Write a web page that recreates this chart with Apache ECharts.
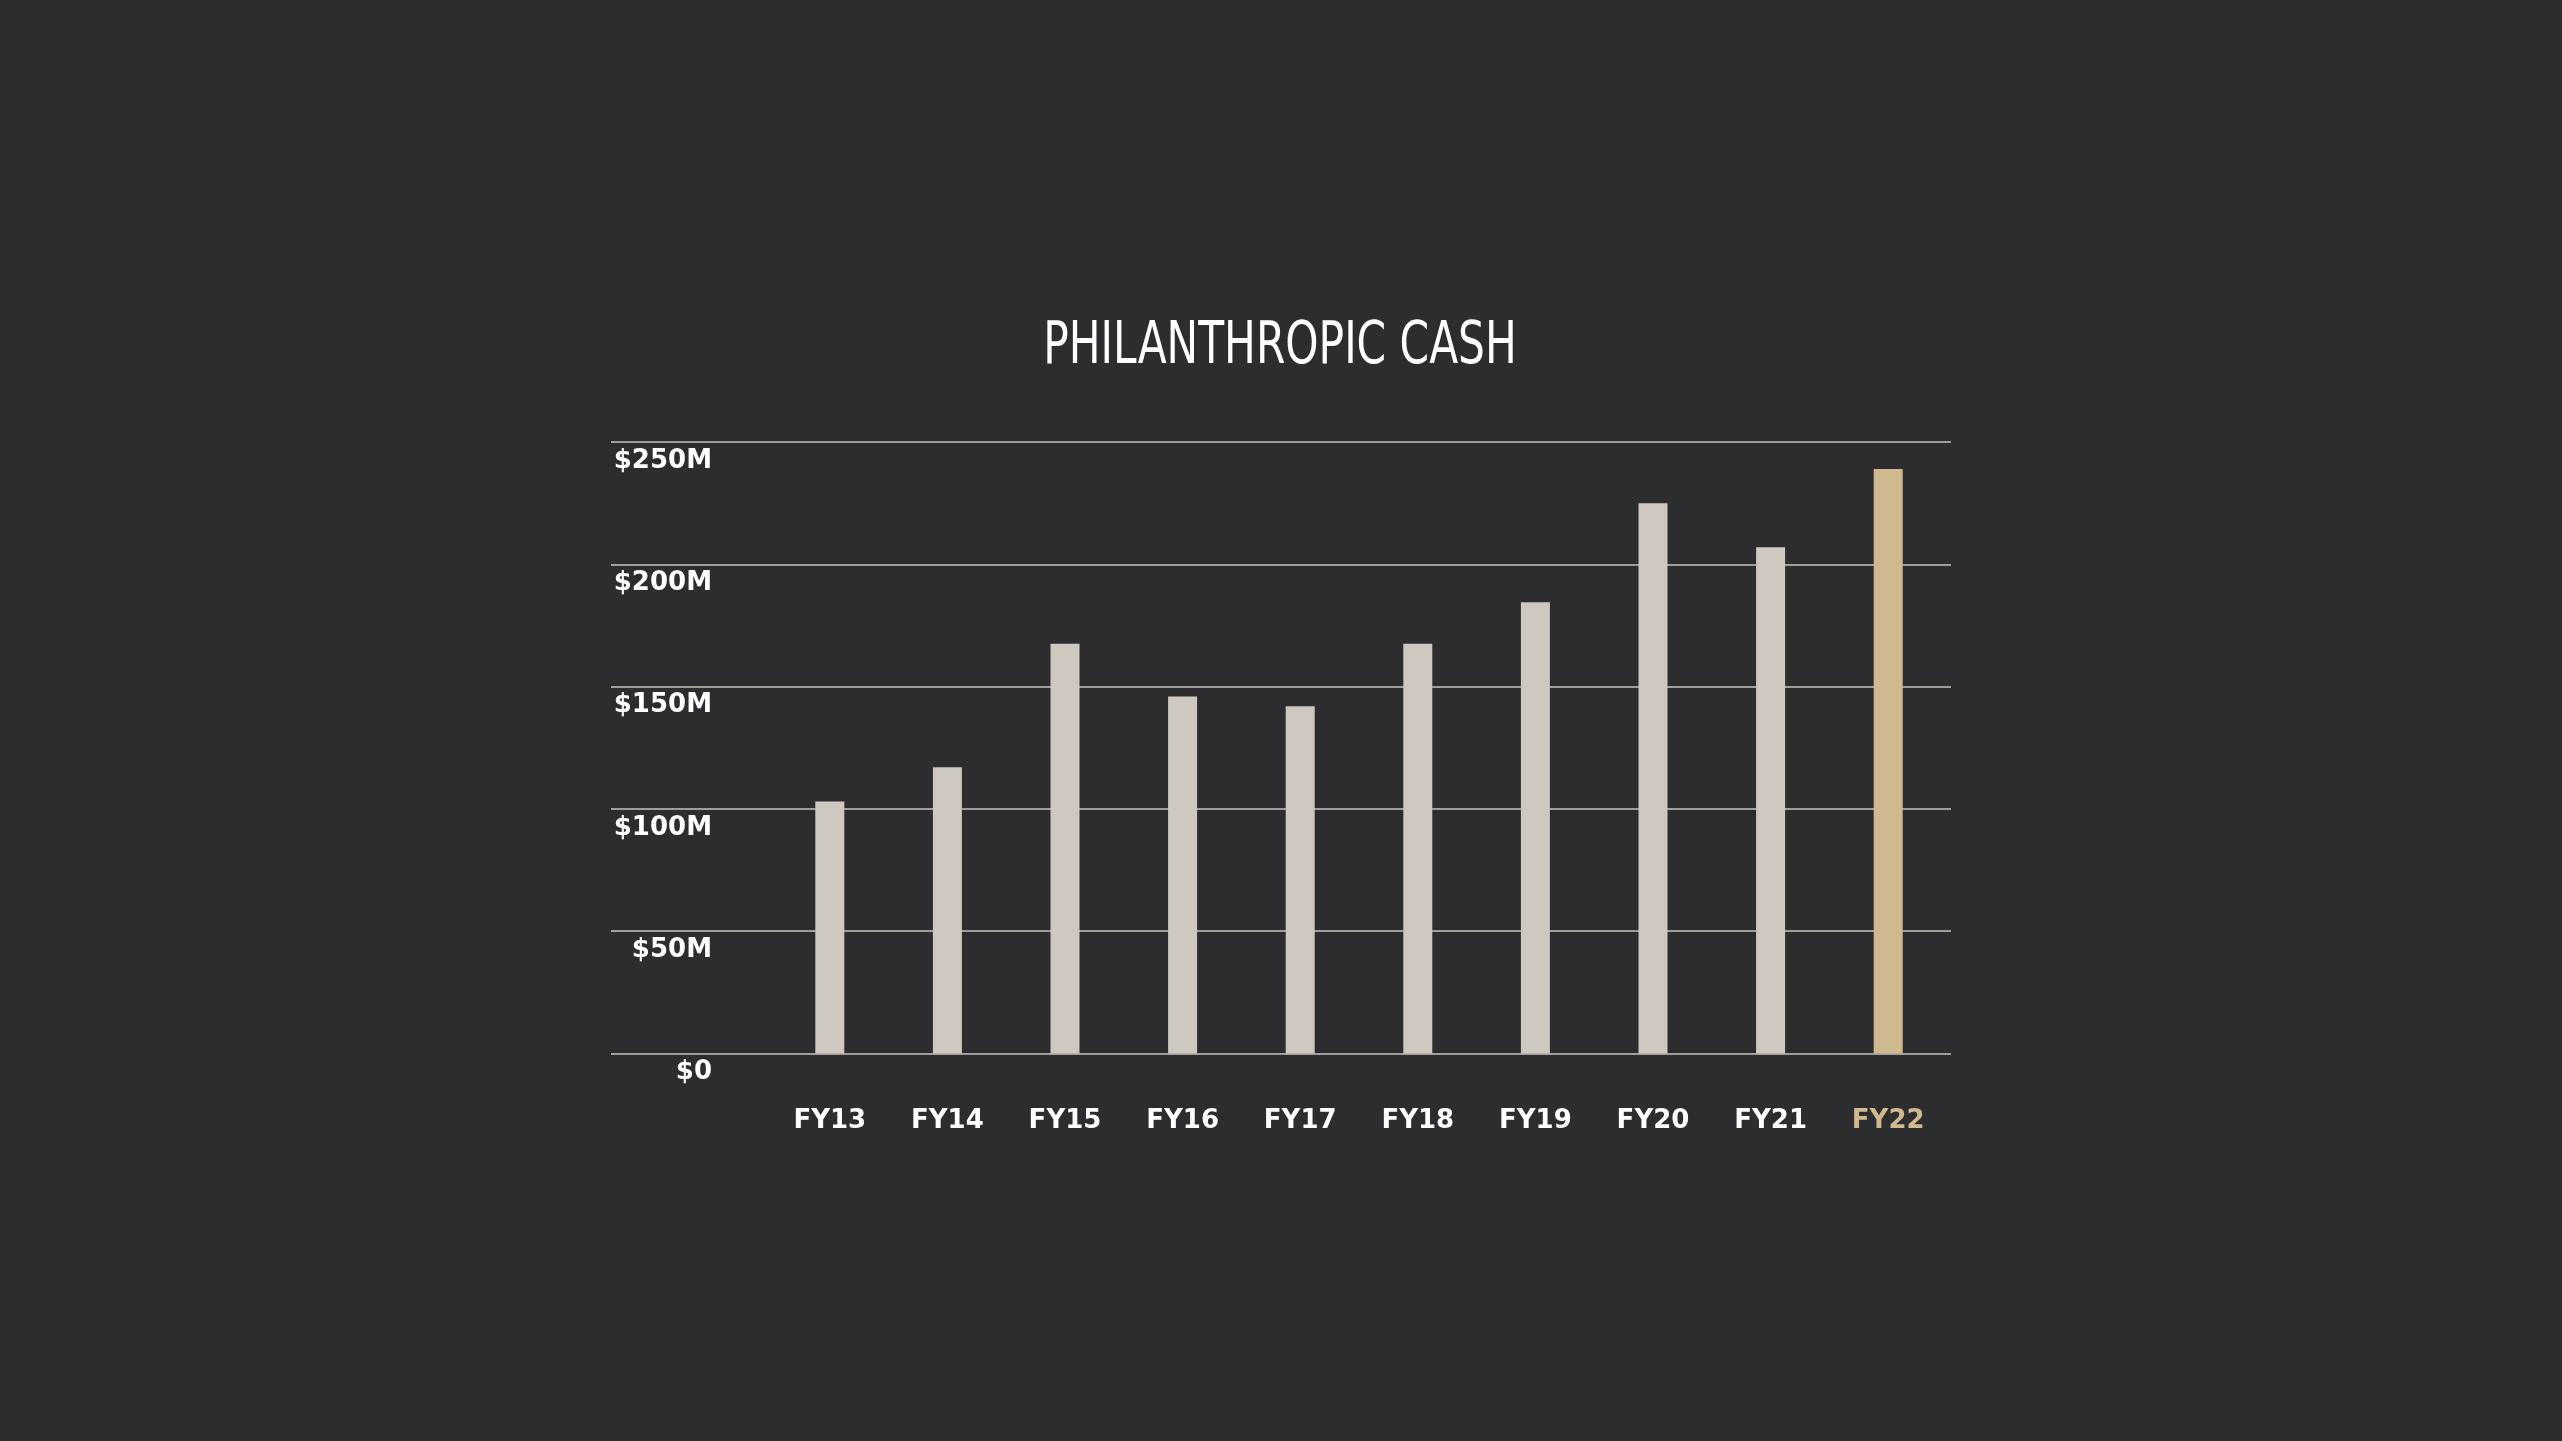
<!DOCTYPE html>
<html>
<head>
<meta charset="utf-8">
<script src="https://cdn.jsdelivr.net/npm/echarts@6/dist/echarts.min.js"></script>
<style>
html,body{margin:0;padding:0;background:#2d2d2f;}
#c{width:2562px;height:1441px;}
</style>
</head>
<body>
<div id="c"></div>
<script>
const titleText = 'PHILANTHROPIC CASH';
const categories = ['FY13','FY14','FY15','FY16','FY17','FY18','FY19','FY20','FY21','FY22'];
const values = [103, 117, 167.5, 146, 142, 167.5, 184.5, 225, 207, 239];
const yTicks = [0, 50, 100, 150, 200, 250];
const highlightIndex = 9;

const barColor = '#cec8c0';
const goldColor = '#cfb98f';
const gridColor = '#c8c3bc';

const chart = echarts.init(document.getElementById('c'), null, {renderer:'canvas'});
chart.setOption({
  backgroundColor: '#2d2d2f',
  animation: false,
  graphic: [
    {
      type: 'text',
      x: 1280,
      y: 348,
      scaleX: 0.84,
      scaleY: 1.06,
      style: {
        text: titleText,
        align: 'center',
        verticalAlign: 'middle',
        fill: '#ffffff',
        fontFamily: "'DejaVu Sans Condensed', 'DejaVu Sans', sans-serif",
        fontWeight: 'normal',
        fontSize: 56
      }
    }
  ],
  grid: [
    {left: 611, right: 611, top: 442, bottom: 1441 - 1053.5},
    {left: 771, right: 615, top: 442, bottom: 1441 - 1053.5}
  ],
  xAxis: [
    {
      type: 'category', gridIndex: 0, data: [''], show: false
    },
    {
      type: 'category', gridIndex: 1, data: categories,
      axisLine: {show: false}, axisTick: {show: false},
      axisLabel: {
        margin: 55,
        fontFamily: "'DejaVu Sans', sans-serif",
        fontWeight: 'bold',
        fontSize: 26,
        color: function (v, i) { return i === highlightIndex ? goldColor : '#ffffff'; }
      }
    }
  ],
  yAxis: [
    {
      type: 'value', gridIndex: 0, min: yTicks[0], max: yTicks[yTicks.length - 1], interval: 50,
      axisLine: {show: false}, axisTick: {show: false},
      splitLine: {show: true, lineStyle: {color: gridColor, width: 1.5}},
      axisLabel: {
        margin: -101,
        align: 'right',
        verticalAlign: 'top',
        padding: [6, 0, 0, 0],
        fontFamily: "'DejaVu Sans', sans-serif",
        fontWeight: 'bold',
        fontSize: 26,
        color: '#ffffff',
        formatter: function (v) { return '$' + v + (v === 0 ? '' : 'M'); }
      }
    },
    {
      type: 'value', gridIndex: 1, min: yTicks[0], max: yTicks[yTicks.length - 1], interval: 50,
      show: false, splitLine: {show: false}
    }
  ],
  series: [
    {
      type: 'bar', xAxisIndex: 1, yAxisIndex: 1,
      barWidth: 29,
      data: values.map(function (v, i) {
        return {value: v, itemStyle: {color: i === highlightIndex ? goldColor : barColor}};
      }),
      z: 3
    }
  ]
});
</script>
</body>
</html>
